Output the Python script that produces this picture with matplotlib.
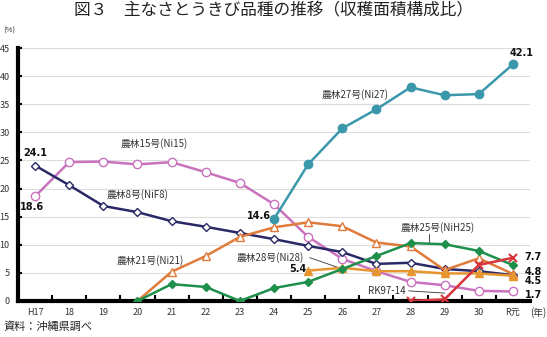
import matplotlib
matplotlib.use("Agg")
import matplotlib.pyplot as plt

plt.rcParams['font.family'] = ['Noto Sans CJK JP', 'DejaVu Sans']

# Data (収穫面積構成比, %)
years = ["H17", "18", "19", "20", "21", "22", "23", "24", "25", "26", "27", "28", "29", "30", "R元"]
ni27 = [None] * 7 + [14.6, 24.3, 30.7, 34.1, 38.0, 36.6, 36.8, 42.1]
ni15 = [18.6, 24.7, 24.8, 24.3, 24.7, 22.9, 21.0, 17.2, 11.4, 7.5, 5.3, 3.4, 2.8, 1.8, 1.7]
nif8 = [24.1, 20.6, 16.9, 15.8, 14.2, 13.2, 12.1, 11.0, 9.8, 8.7, 6.6, 6.8, 5.7, 5.3, 4.6]
ni21 = [None] * 3 + [0.0, 5.2, 8.0, 11.4, 13.1, 14.0, 13.3, 10.4, 9.7, 5.5, 7.6, 4.8]
nih25 = [None] * 3 + [0.0, 3.0, 2.5, 0.0, 2.3, 3.4, 5.7, 8.0, 10.3, 10.1, 8.9, 6.4]
ni28 = [None] * 8 + [5.4, 5.9, 5.3, 5.3, 4.9, 4.9, 4.5]
rk9714 = [None] * 11 + [0.0, 0.3, 6.4, 7.7]

# Colors
teal = "#3b98ab"
pink = "#c972bd"
navy = "#2a2966"
orange = "#e07b3c"
green = "#1f8f4c"
amber = "#e6952f"
red = "#d8343b"

fig = plt.figure(figsize=(5.47, 3.37), dpi=100)
ax = fig.add_axes([18 / 547, 36 / 337, 512 / 547, 253 / 337])

x = list(range(len(years)))


def draw(vals, color, marker, filled, ms=5.5, mew=1.0):
    xs = [i for i, v in zip(x, vals) if v is not None]
    ys = [v for v in vals if v is not None]
    ax.plot(xs, ys, color=color, lw=1.8, marker=marker, ms=ms,
            mfc=color if filled else "white", mec=color, mew=mew, zorder=3)


draw(ni15, pink, "o", False, ms=6)
draw(nif8, navy, "D", False, ms=4.5)
draw(ni21, orange, "^", False, ms=6)
draw(ni28, amber, "^", True, ms=6)
draw(nih25, green, "D", True, ms=4.5)
draw(ni27, teal, "o", True, ms=6)
draw(rk9714, red, "x", False, ms=6, mew=1.5)

ax.set_xlim(-0.5, 14.5)
ax.set_ylim(0, 45)
ax.set_yticks(range(0, 46, 5))
ax.set_xticks(x)
ax.set_xticklabels(years, fontsize=6.5, color="#333333")
ax.set_xticks([i + 0.5 for i in x[:-1]], minor=True)
ax.tick_params(axis="x", which="major", length=0, pad=5)
ax.tick_params(axis="x", which="minor", direction="in", length=4, width=1.5, color="black")
ax.tick_params(axis="y", direction="in", length=3, width=1.5, labelsize=6.5,
               labelcolor="#333333", pad=6)
ax.grid(axis="y", color="#dddddd", lw=0.8, zorder=0)
for s in ["top", "right"]:
    ax.spines[s].set_visible(False)
ax.spines["left"].set_linewidth(3)
ax.spines["bottom"].set_linewidth(3)

# Title and notes
fig.text(0.5, 0.968, "図３　主なさとうきび品種の推移（収穫面積構成比）",
         ha="center", va="center", fontsize=12, color="#222222")
fig.text(3 / 547, 1 - 31 / 337, "(%)", fontsize=5.5, va="center", color="#333333")
fig.text(546 / 547, 1 - 313 / 337, "(年)", fontsize=7, va="center", ha="right", color="#333333")
fig.text(3 / 547, 1 - 327 / 337, "資料：沖縄県調べ", fontsize=8, va="center", color="#222222")

# Series labels
lab = dict(fontsize=7, color="#333333", va="center")
ax.text(2.5, 28.0, "農林15号(Ni15)", **lab)
ax.text(2.1, 19.0, "農林8号(NiF8)", **lab)
ax.text(2.4, 7.2, "農林21号(Ni21)", **lab)
ax.text(5.9, 7.7, "農林28号(Ni28)", **lab)
ax.text(8.4, 36.7, "農林27号(Ni27)", **lab)
ax.text(10.7, 13.0, "農林25号(NiH25)", **lab)
ax.text(9.75, 1.8, "RK97-14", **lab)
ax.plot([8.05, 9.0], [7.7, 5.7], color="#333333", lw=0.6)
ax.plot([11.55, 11.55], [12.0, 10.2], color="#333333", lw=0.6)
ax.plot([10.95, 12.0], [1.8, 1.4], color="#333333", lw=0.6)

# Value labels
val = dict(fontsize=7, fontweight="bold", color="#111111", va="center", ha="center",
           family="DejaVu Sans")
ax.text(0.0, 26.3, "24.1", **val)
ax.text(-0.1, 16.8, "18.6", **val)
ax.text(6.55, 15.1, "14.6", **val)
ax.text(7.7, 5.7, "5.4", **val)
ax.text(14.25, 44.1, "42.1", **val)
ax.text(14.6, 7.8, "7.7", **val)
ax.text(14.6, 5.2, "4.8", **val)
ax.text(14.6, 3.6, "4.5", **val)
ax.text(14.6, 1.0, "1.7", **val)

fig.savefig("out.png", dpi=100)
